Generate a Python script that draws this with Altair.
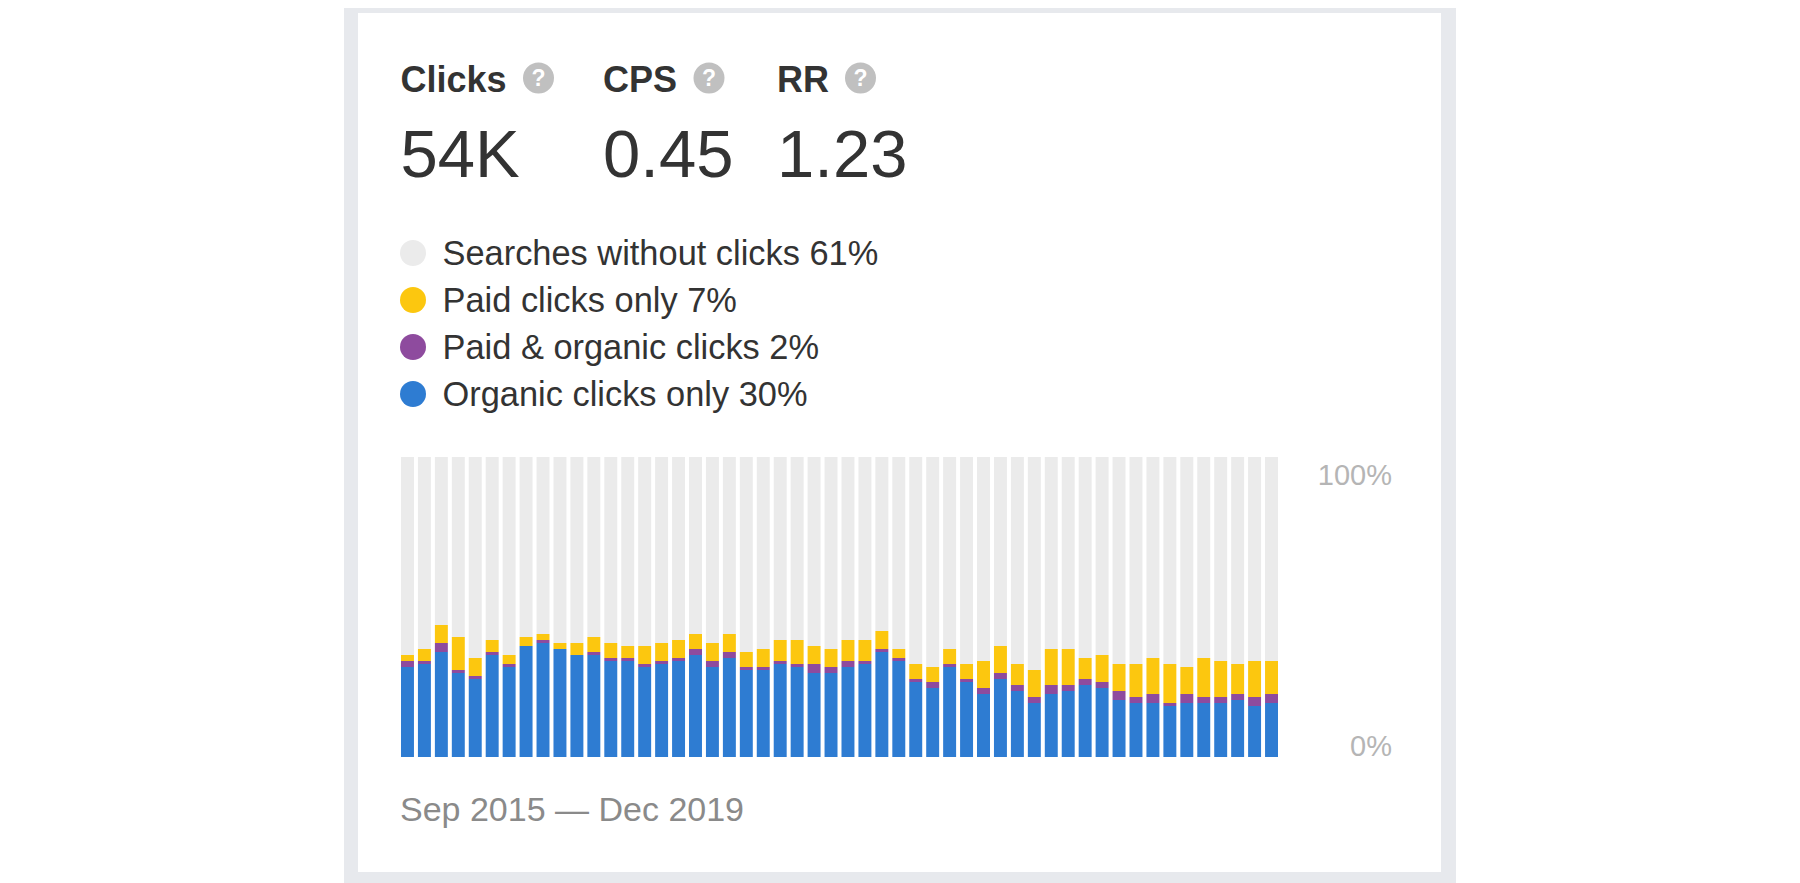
import altair as alt
import pandas as pd

months = pd.date_range("2015-09-01", "2019-12-01", freq="MS").strftime("%Y-%m").tolist()
# cumulative tops of the stacked segments, in percent
organic = [30,31,35,28,26,34,30,37,38,36,34,34,32,32,30,31,32,34,30,33,29,29,31,30,28,28,30,31,35,32,
           25,23,30,25,21,26,22,18,21,22,24,23,19,18,18,17,18,18,18,19,17,18]
both_top = [32,32,38,29,27,35,31,37,39,36,34,35,33,33,31,32,33,36,32,35,30,30,32,31,31,30,32,32,36,33,
            26,25,31,26,23,28,24,20,24,24,26,25,22,20,21,18,21,20,20,21,20,21]
paid_top = [34,36,44,40,33,39,34,40,41,38,38,40,38,37,37,38,39,41,38,41,35,36,39,39,37,36,39,39,42,36,
            31,30,36,31,32,37,31,29,36,36,33,34,31,31,33,31,30,33,32,31,32,32]
series_names = ["Organic clicks only", "Paid & organic clicks", "Paid clicks only", "Searches without clicks"]
series_colors = ["#2e7cd2", "#8e4b9e", "#fcc70f", "#ebebeb"]
legend_labels = ["Searches without clicks 61%", "Paid clicks only 7%", "Paid & organic clicks 2%", "Organic clicks only 30%"]
legend_colors = ["#ebebeb", "#fcc70f", "#8e4b9e", "#2e7cd2"]
metric_names = ["Clicks", "CPS", "RR"]
metric_values = ["54K", "0.45", "1.23"]
metric_x = [392.5, 595, 769]
help_x = [530.5, 701, 852.5]
tick_labels = ["100%", "0%"]
date_label = "Sep 2015 — Dec 2019"

FONT = "Liberation Sans"
W, H = 1450, 883

rows = []
for i, m in enumerate(months):
    rows.append({"m": m, "s": series_names[0], "a": 0, "b": organic[i]})
    rows.append({"m": m, "s": series_names[1], "a": organic[i], "b": both_top[i]})
    rows.append({"m": m, "s": series_names[2], "a": both_top[i], "b": paid_top[i]})
    rows.append({"m": m, "s": series_names[3], "a": paid_top[i], "b": 100})
df = pd.DataFrame(rows)

def box(x, x2, y, y2, color):
    return alt.Chart(pd.DataFrame({"k": [0]})).mark_rect(color=color).encode(
        x=alt.value(x), x2=alt.value(x2), y=alt.value(y), y2=alt.value(y2))

def label(text, x, y, size, color, weight="normal", align="left"):
    return alt.Chart(pd.DataFrame({"t": [text]})).mark_text(
        font=FONT, fontSize=size, color=color, fontWeight=weight, align=align, baseline="alphabetic"
    ).encode(x=alt.value(x), y=alt.value(y), text="t:N")

def dot(x, y, diameter, color):
    return alt.Chart(pd.DataFrame({"k": [0]})).mark_circle(size=diameter ** 2, color=color, opacity=1).encode(
        x=alt.value(x), y=alt.value(y))

layers = [box(336, 1448, 0, 883, "#e7e9ed"), box(350, 1433, 5, 864, "#ffffff")]

bars = alt.Chart(df).mark_bar().encode(
    x=alt.X("m:O", sort=months, axis=None,
            scale=alt.Scale(type="band", domain=months, range=[393, 1270], paddingInner=0.235, paddingOuter=0)),
    y=alt.Y("a:Q", axis=None, scale=alt.Scale(domain=[0, 100], range=[749, 449])),
    y2="b:Q",
    color=alt.Color("s:N", legend=None, scale=alt.Scale(domain=series_names, range=series_colors)),
)
layers.append(bars)

for name, value, x, hx in zip(metric_names, metric_values, metric_x, help_x):
    layers.append(label(name, x, 84, 36, "#333333", weight="bold"))
    layers.append(label(value, x, 169, 67, "#333333"))
    layers.append(dot(hx, 70, 31, "#c0c0c0"))
    layers.append(label("?", hx, 78, 23, "#ffffff", weight="bold", align="center"))

for text, color, cy in zip(legend_labels, legend_colors, [245, 292, 339, 386]):
    layers.append(dot(405, cy, 26, color))
    layers.append(label(text, 434.5, cy + 12, 34.4, "#333333"))

layers.append(label(tick_labels[0], 1384, 477, 29, "#b5b5b5", align="right"))
layers.append(label(tick_labels[1], 1384, 748, 29, "#b5b5b5", align="right"))
layers.append(label(date_label, 392, 813, 34, "#8a8a8a"))

chart = alt.layer(*layers).properties(
    width=W, height=H, padding=0, background="#ffffff",
    autosize=alt.AutoSizeParams(type="none"),
).configure_view(stroke=None)

chart.save("out.html", embed_options={"renderer": "svg", "actions": False})
